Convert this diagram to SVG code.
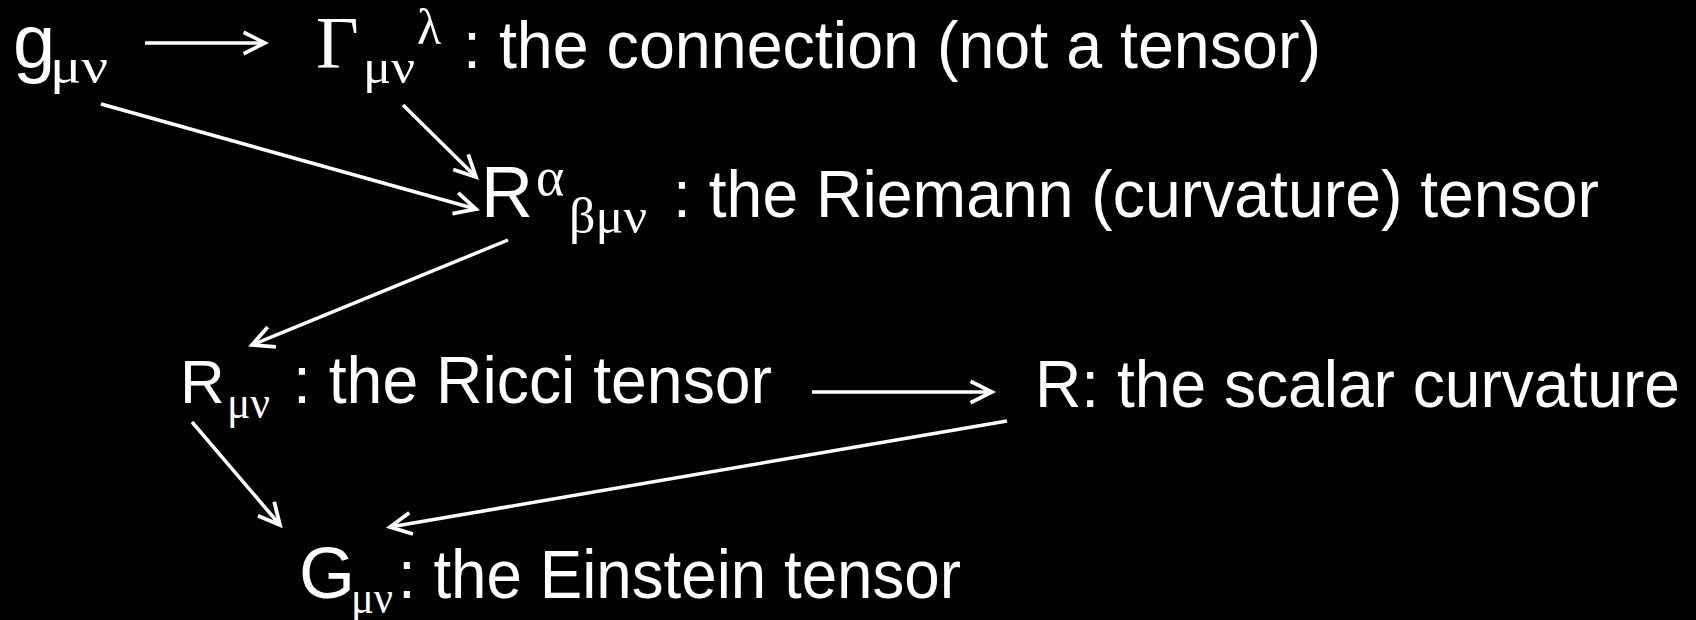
<svg xmlns="http://www.w3.org/2000/svg" width="1696" height="620" viewBox="0 0 1696 620">
<style>
.s{font-family:"Liberation Sans",Arial,sans-serif;fill:#fff}
.g{font-family:"Liberation Serif","Times New Roman",serif;fill:#fff}
.c{stroke:#fff;stroke-width:3.5;fill:none}
</style>
<defs>
<marker id="ah" markerUnits="userSpaceOnUse" markerWidth="30" markerHeight="30" viewBox="-24 -14 28 28" refX="0" refY="0" orient="auto">
<path d="M-20,-10 L0,0 L-20,10" fill="none" stroke="#fff" stroke-width="3.5"/>
</marker>
</defs>
<rect width="1696" height="620" fill="#000"/>
<g id="connectors" class="c" marker-end="url(#ah)">
<line x1="145" y1="43" x2="265" y2="43"/>
<line x1="101" y1="104" x2="476" y2="209"/>
<line x1="403" y1="105" x2="476" y2="177"/>
<line x1="508" y1="240" x2="252" y2="345"/>
<line x1="812" y1="392" x2="992" y2="392"/>
<line x1="192" y1="422" x2="280" y2="525"/>
<line x1="1007" y1="421" x2="390" y2="527"/>
</g>
<g id="node-g">
<text class="s" x="13" y="68" font-size="76">g</text>
<text class="g" x="50" y="83" font-size="50" textLength="58" lengthAdjust="spacingAndGlyphs">μν</text>
</g>
<g id="node-connection">
<text class="g" x="316" y="68" font-size="74">Γ</text>
<text class="g" x="363" y="83" font-size="48" textLength="52" lengthAdjust="spacingAndGlyphs">μν</text>
<text class="g" x="417" y="44" font-size="50">λ</text>
<text class="s" x="463" y="68" font-size="67" textLength="858" lengthAdjust="spacingAndGlyphs">: the connection (not a tensor)</text>
</g>
<g id="node-riemann">
<text class="s" x="481" y="217" font-size="72">R</text>
<text class="g" x="536" y="195" font-size="54">α</text>
<text class="g" x="569" y="233" font-size="50" textLength="78" lengthAdjust="spacingAndGlyphs">βμν</text>
<text class="s" x="673" y="217" font-size="67" textLength="926" lengthAdjust="spacingAndGlyphs">: the Riemann (curvature) tensor</text>
</g>
<g id="node-ricci">
<text class="s" x="180" y="403" font-size="62">R</text>
<text class="g" x="227" y="418" font-size="46" textLength="43" lengthAdjust="spacingAndGlyphs">μν</text>
<text class="s" x="293" y="403" font-size="66" textLength="479" lengthAdjust="spacingAndGlyphs">: the Ricci tensor</text>
</g>
<g id="node-scalar">
<text class="s" x="1035" y="407" font-size="66" textLength="645" lengthAdjust="spacingAndGlyphs">R: the scalar curvature</text>
</g>
<g id="node-einstein">
<text class="s" x="299" y="598" font-size="72">G</text>
<text class="g" x="351" y="613" font-size="46" textLength="42" lengthAdjust="spacingAndGlyphs">μν</text>
<text class="s" x="398" y="598" font-size="68" textLength="563" lengthAdjust="spacingAndGlyphs">: the Einstein tensor</text>
</g>
</svg>
